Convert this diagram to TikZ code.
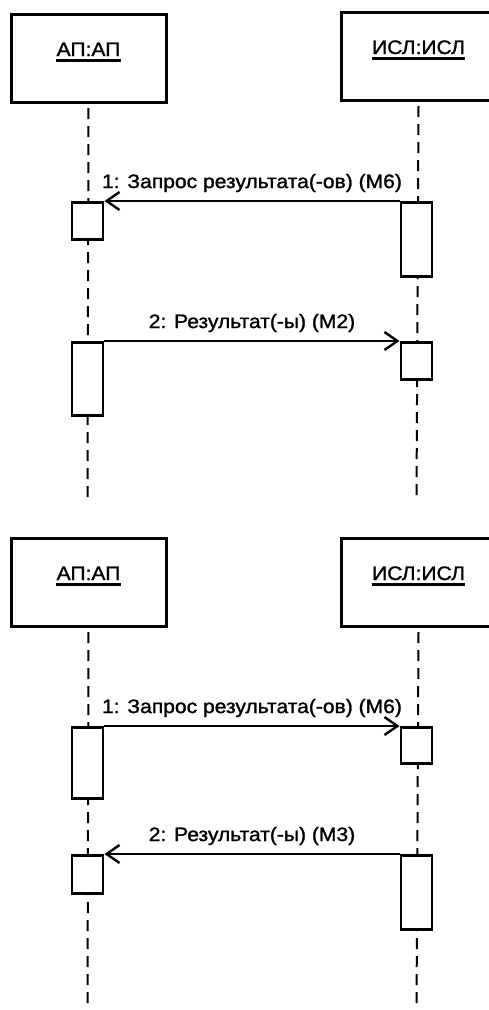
\documentclass[tikz,border=0pt]{standalone}
\usepackage{fontspec}
\setmainfont{Liberation Sans}[FakeStretch=1.08, FakeBold=1.3]
\usetikzlibrary{arrows.meta}

\tikzset{
    objbox/.style={draw, line width=3pt, minimum width=155pt, minimum height=88pt, inner sep=0pt},
    objname/.style={inner sep=0pt, font=\fontsize{19.5}{22}\selectfont},
    actbox/.style={draw, fill=white, line width=2.9pt, minimum width=31pt, inner sep=0pt},
    lifeline/.style={line width=2pt, dash pattern=on 11pt off 7pt},
    msg/.style={line width=1.8pt, -{Straight Barb[length=13pt,width=18pt,line width=2.4pt]}},
    msglabel/.style={midway, above=5pt, inner sep=3pt, font=\fontsize{19.5}{22}\selectfont}
}

\begin{document}
\begin{tikzpicture}[x=1pt,y=-1pt]
        \useasboundingbox (0,0) rectangle (489,1010);
        %% Objects
        \node[objbox, anchor=north west] (ap1) at (9.5,13) {};
        \node[objbox, anchor=north west] (isl1) at (339.5,11) {};
        \node[objbox, anchor=north west] (ap2) at (9.5,537) {};
        \node[objbox, anchor=north west] (isl2) at (339.5,537) {};
        \foreach \o/\t in {ap1/АП:АП, isl1/ИСЛ:ИСЛ, ap2/АП:АП, isl2/ИСЛ:ИСЛ} {
            \node[objname, anchor=base] (t\o) at ([yshift=-43pt]\o.north) {\t};
            \draw[line width=2.4pt] ([yshift=-4.5pt]t\o.base west) -- ([yshift=-4.5pt]t\o.base east);
        }
        %% Lifelines
        \coordinate (ap1end) at (87.5,500);
        \coordinate (isl1end) at (416.5,500);
        \coordinate (ap2end) at (87.5,1012);
        \coordinate (isl2end) at (416.5,1012);
        \foreach \o in {ap1,isl1,ap2,isl2} {
            \draw[lifeline] ([yshift=-4pt]\o.south) -- (\o end);
        }
        %% Activations
        \node[actbox, anchor=north, minimum height=37pt] (a1) at (87.5,201) {};
        \node[actbox, anchor=north, minimum height=74pt] (i1) at (416.5,201) {};
        \node[actbox, anchor=north, minimum height=73pt] (a2) at (87.5,341) {};
        \node[actbox, anchor=north, minimum height=37pt] (i2) at (416.5,341) {};
        \node[actbox, anchor=north, minimum height=71pt] (a3) at (87.5,726) {};
        \node[actbox, anchor=north, minimum height=36pt] (i3) at (416.5,726) {};
        \node[actbox, anchor=north, minimum height=38pt] (a4) at (87.5,854) {};
        \node[actbox, anchor=north, minimum height=74pt] (i4) at (416.5,854) {};
        %% Messages
        \draw[msg] (i1.north west) -- (a1.north east) node[msglabel] {1: Запрос результата(-ов) (М6)};
        \draw[msg] (a2.north east) -- (i2.north west) node[msglabel] {2: Результат(-ы) (М2)};
        \draw[msg] (a3.north east) -- (i3.north west) node[msglabel] {1: Запрос результата(-ов) (М6)};
        \draw[msg] (i4.north west) -- (a4.north east) node[msglabel] {2: Результат(-ы) (М3)};
    \end{tikzpicture}
\end{document}
